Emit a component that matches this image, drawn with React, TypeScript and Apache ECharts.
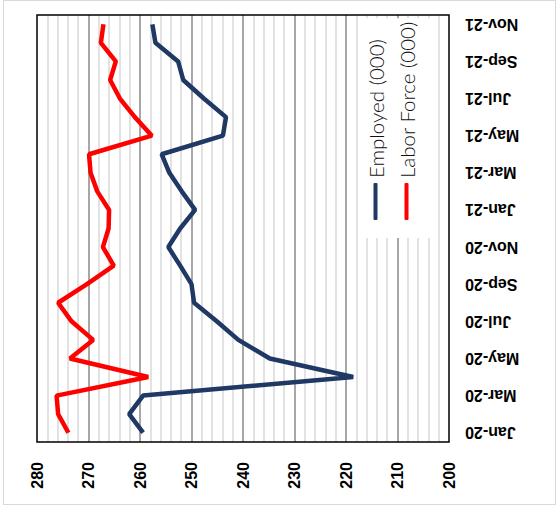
import React, { useEffect, useRef } from "react";
import * as echarts from "echarts";

const categories = [
  "Jan-20", "Feb-20", "Mar-20", "Apr-20", "May-20", "Jun-20", "Jul-20", "Aug-20",
  "Sep-20", "Oct-20", "Nov-20", "Dec-20", "Jan-21", "Feb-21", "Mar-21", "Apr-21",
  "May-21", "Jun-21", "Jul-21", "Aug-21", "Sep-21", "Oct-21", "Nov-21",
];

const employed = [
  259.4, 262.1, 259.4, 218.6, 234.8, 240.9, 245.1, 249.5, 250.0, 252.2, 254.5, 252.2,
  249.3, 251.9, 254.3, 255.8, 243.9, 243.3, 247.6, 251.6, 252.6, 257.0, 257.6,
];

const laborForce = [
  273.9, 275.9, 276.2, 258.4, 273.6, 269.1, 273.3, 275.9, 270.3, 265.1, 267.2, 266.1,
  266.0, 268.3, 269.6, 269.9, 257.7, 261.0, 263.9, 265.8, 264.7, 267.6, 267.1,
];

const seriesNames = ["Employed (000)", "Labor Force (000)"];
const valueMin = 200;
const valueMax = 280;
const valueStep = 10;

export default function App() {
  const ref = useRef<HTMLDivElement>(null);

  useEffect(() => {
    if (!ref.current) return;
    const chart = echarts.init(ref.current, undefined, { renderer: "svg" });
    chart.setOption({
      animation: false,
      grid: {
        left: 68,
        right: 15,
        top: 37,
        bottom: 109,
        show: true,
        borderColor: "#000",
        borderWidth: 1.5,
        backgroundColor: "transparent",
        z: 5,
      },
      xAxis: {
        type: "category",
        data: categories,
        boundaryGap: true,
        axisLine: { show: false },
        axisTick: { show: false },
        splitLine: { show: false },
        axisLabel: {
          interval: 1,
          rotate: 90,
          margin: 16,
          fontSize: 16,
          fontWeight: "bold",
          color: "#000",
          fontFamily: "Liberation Sans",
        },
      },
      yAxis: {
        type: "value",
        min: valueMin,
        max: valueMax,
        interval: valueStep,
        axisLine: { show: false },
        axisTick: { show: false },
        axisLabel: {
          margin: 20,
          fontSize: 16,
          fontWeight: "bold",
          color: "#000",
          fontFamily: "Liberation Sans",
        },
        splitLine: {
          show: true,
          showMinLine: false,
          showMaxLine: false,
          lineStyle: { color: "#8a8a8a", width: 1.5 },
        },
        minorTick: { show: false, splitNumber: 5 },
        minorSplitLine: { show: true, lineStyle: { color: "#d9d9d9", width: 1.5 } },
      },
      legend: {
        orient: "vertical",
        left: 272,
        top: 358,
        icon: "roundRect",
        itemWidth: 37,
        itemHeight: 4,
        itemGap: 10,
        padding: [7, 3, 20, 18],
        backgroundColor: "#fff",
        data: seriesNames,
        textStyle: {
          fontFamily: "Lato",
          fontSize: 20.5,
          fontWeight: 300,
          color: "#111",
        },
      },
      series: [
        {
          name: seriesNames[0],
          type: "line",
          data: employed,
          symbol: "none",
          lineStyle: { color: "#203864", width: 4.5 },
          itemStyle: { color: "#203864" },
        },
        {
          name: seriesNames[1],
          type: "line",
          data: laborForce,
          symbol: "none",
          lineStyle: { color: "#ff0000", width: 4.5 },
          itemStyle: { color: "#ff0000" },
        },
      ],
    });
    return () => chart.dispose();
  }, []);

  return (
    <div
      style={{
        position: "fixed",
        left: 0,
        top: 0,
        width: 558,
        height: 510,
        background: "#fff",
        overflow: "hidden",
      }}
    >
      <div
        style={{
          position: "absolute",
          left: 3,
          top: 0,
          width: 553,
          height: 505,
          border: "1.5px solid #d9d9d9",
          boxSizing: "border-box",
        }}
      />
      <div
        ref={ref}
        style={{
          position: "absolute",
          left: 0,
          top: 0,
          width: 510,
          height: 558,
          transformOrigin: "0 0",
          transform: "translateY(510px) rotate(-90deg)",
        }}
      />
    </div>
  );
}
